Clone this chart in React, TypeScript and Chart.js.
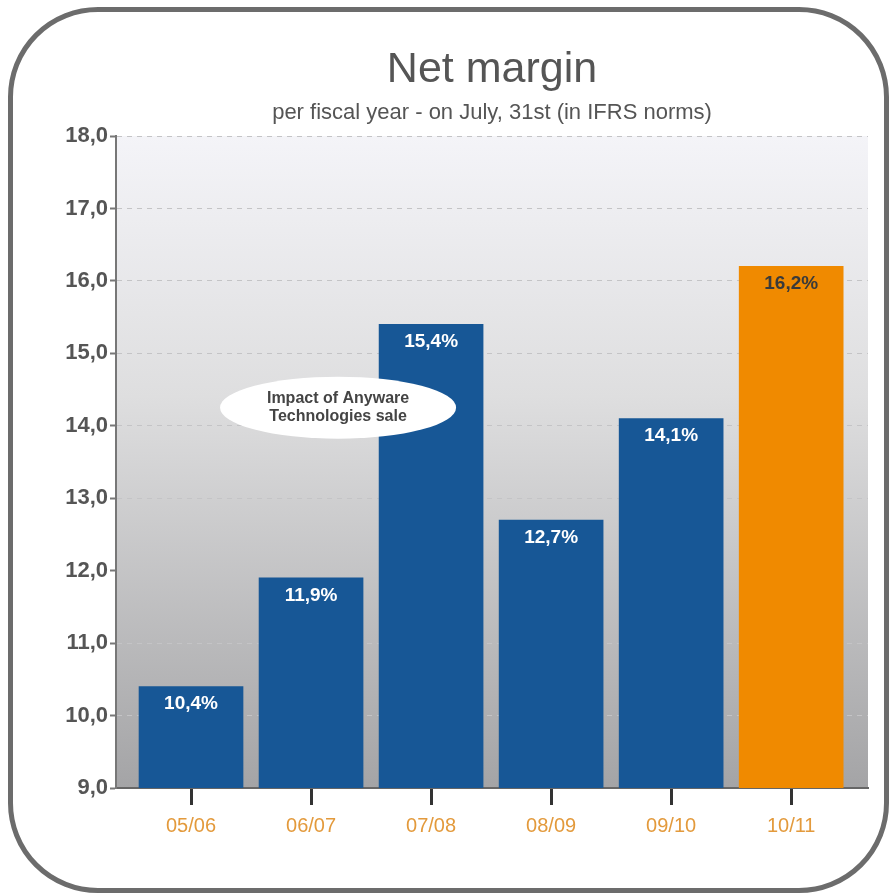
import React, { useEffect, useRef } from 'react';
import { Chart, registerables } from 'chart.js';

Chart.register(...registerables);

const categories = ['05/06', '06/07', '07/08', '08/09', '09/10', '10/11'];
const netMargin = [10.4, 11.9, 15.4, 12.7, 14.1, 16.2];
const barColors = ['#175796', '#175796', '#175796', '#175796', '#175796', '#f08a00'];
const labelColors = ['#ffffff', '#ffffff', '#ffffff', '#ffffff', '#ffffff', '#3a3a3a'];
const yMin = 9;
const yMax = 18;
const titleText = 'Net margin';
const subtitleText = 'per fiscal year - on July, 31st (in IFRS norms)';
const noteLines = ['Impact of Anyware', 'Technologies sale'];
const notePos = { x: 1.225, y: 14.25 };

const FONT = "'Liberation Sans', Arial, Helvetica, sans-serif";
const fmt = (v: number) => v.toFixed(1).replace('.', ',');

const bgPlugin = {
  id: 'bgGradient',
  beforeDraw(chart: any) {
    const { ctx, chartArea } = chart;
    const { left, top, right, bottom } = chartArea;
    const g = ctx.createLinearGradient(0, top, 0, bottom);
    g.addColorStop(0, '#f4f4f8');
    g.addColorStop(0.4, '#dededf');
    g.addColorStop(1, '#a4a4a6');
    ctx.save();
    ctx.fillStyle = g;
    ctx.fillRect(left, top, right - left, bottom - top);
    ctx.restore();
  },
};

const labelPlugin = {
  id: 'valueLabels',
  afterDatasetsDraw(chart: any) {
    const { ctx } = chart;
    const meta = chart.getDatasetMeta(0);
    ctx.save();
    ctx.font = `bold 19px ${FONT}`;
    ctx.textAlign = 'center';
    ctx.textBaseline = 'top';
    meta.data.forEach((el: any, i: number) => {
      ctx.fillStyle = labelColors[i];
      ctx.fillText(fmt(netMargin[i]) + '%', el.x, el.y + 8);
    });
    // annotation ellipse
    const xs = chart.scales.x;
    const ys = chart.scales.y;
    const cx = xs.getPixelForValue(notePos.x);
    const cy = ys.getPixelForValue(notePos.y);
    ctx.beginPath();
    ctx.ellipse(cx, cy, 118, 31, 0, 0, Math.PI * 2);
    ctx.fillStyle = '#ffffff';
    ctx.fill();
    ctx.font = `bold 16px ${FONT}`;
    ctx.fillStyle = '#444444';
    ctx.textBaseline = 'middle';
    ctx.fillText(noteLines[0], cx, cy - 9);
    ctx.fillText(noteLines[1], cx, cy + 9);
    ctx.restore();
  },
};

export default function App() {
  const ref = useRef<HTMLCanvasElement>(null);
  useEffect(() => {
    if (!ref.current) return;
    const chart = new Chart(ref.current, {
      type: 'bar',
      data: {
        datasets: [
          {
            data: netMargin.map((v, i) => ({ x: i, y: v })),
            backgroundColor: barColors,
            borderWidth: 0,
            barThickness: 104,
            maxBarThickness: 104,
          },
        ],
      },
      options: {
        responsive: false,
        animation: false,
        layout: { padding: { top: 0, left: 0, right: 28, bottom: 0 } },
        plugins: {
          legend: { display: false },
          tooltip: { enabled: false },
          title: {
            display: true,
            fullSize: false,
            text: titleText,
            color: '#555555',
            font: { family: FONT, size: 43, weight: 'normal', lineHeight: 1.2 },
            padding: { top: 44, bottom: 4 },
          },
          subtitle: {
            display: true,
            fullSize: false,
            text: subtitleText,
            color: '#555555',
            font: { family: FONT, size: 22, weight: 'normal', lineHeight: 1.2 },
            padding: { top: 0, bottom: 10 },
          },
        },
        scales: {
          x: {
            type: 'linear',
            offset: false,
            min: -0.625,
            max: 5.64,
            afterBuildTicks: (scale: any) => {
              scale.ticks = categories.map((_, i) => ({ value: i }));
            },
            afterFit: (scale: any) => {
              scale.height = 106;
            },
            ticks: {
              autoSkip: false,
              maxRotation: 0,
              color: '#e39a3c',
              padding: 9,
              font: { family: FONT, size: 20 },
              callback: (v: any) => categories[v] ?? '',
            },
            grid: {
              drawOnChartArea: false,
              drawTicks: true,
              offset: false,
              tickLength: 17,
              tickColor: '#333333',
              tickWidth: 3,
            },
            border: { display: true, color: '#666666', width: 2 },
          },
          y: {
            min: yMin,
            max: yMax,
            afterFit: (scale: any) => {
              scale.width = 116;
            },
            ticks: {
              stepSize: 1,
              color: '#555555',
              padding: 2,
              font: { family: FONT, size: 22, weight: 'bold' },
              callback: (v: any) => fmt(Number(v)),
            },
            grid: {
              color: '#c4c4c6',
              lineWidth: 1,
              tickLength: 6,
              tickColor: '#777777',
              tickWidth: 2,
            },
            border: { display: true, color: '#777777', width: 2, dash: [5, 5] },
          },
        },
      } as any,
      plugins: [bgPlugin, labelPlugin],
    });
    return () => chart.destroy();
  }, []);

  return (
    <div style={{ position: 'fixed', left: 0, top: 0, width: 896, height: 894, background: '#ffffff', overflow: 'hidden' }}>
      <canvas ref={ref} width={896} height={894} style={{ position: 'absolute', left: 0, top: 0 }} />
      <div
        style={{
          position: 'absolute',
          left: 8,
          top: 7,
          width: 881,
          height: 886,
          boxSizing: 'border-box',
          border: '5px solid #6c6c6c',
          borderRadius: 90,
          pointerEvents: 'none',
        }}
      />
    </div>
  );
}
